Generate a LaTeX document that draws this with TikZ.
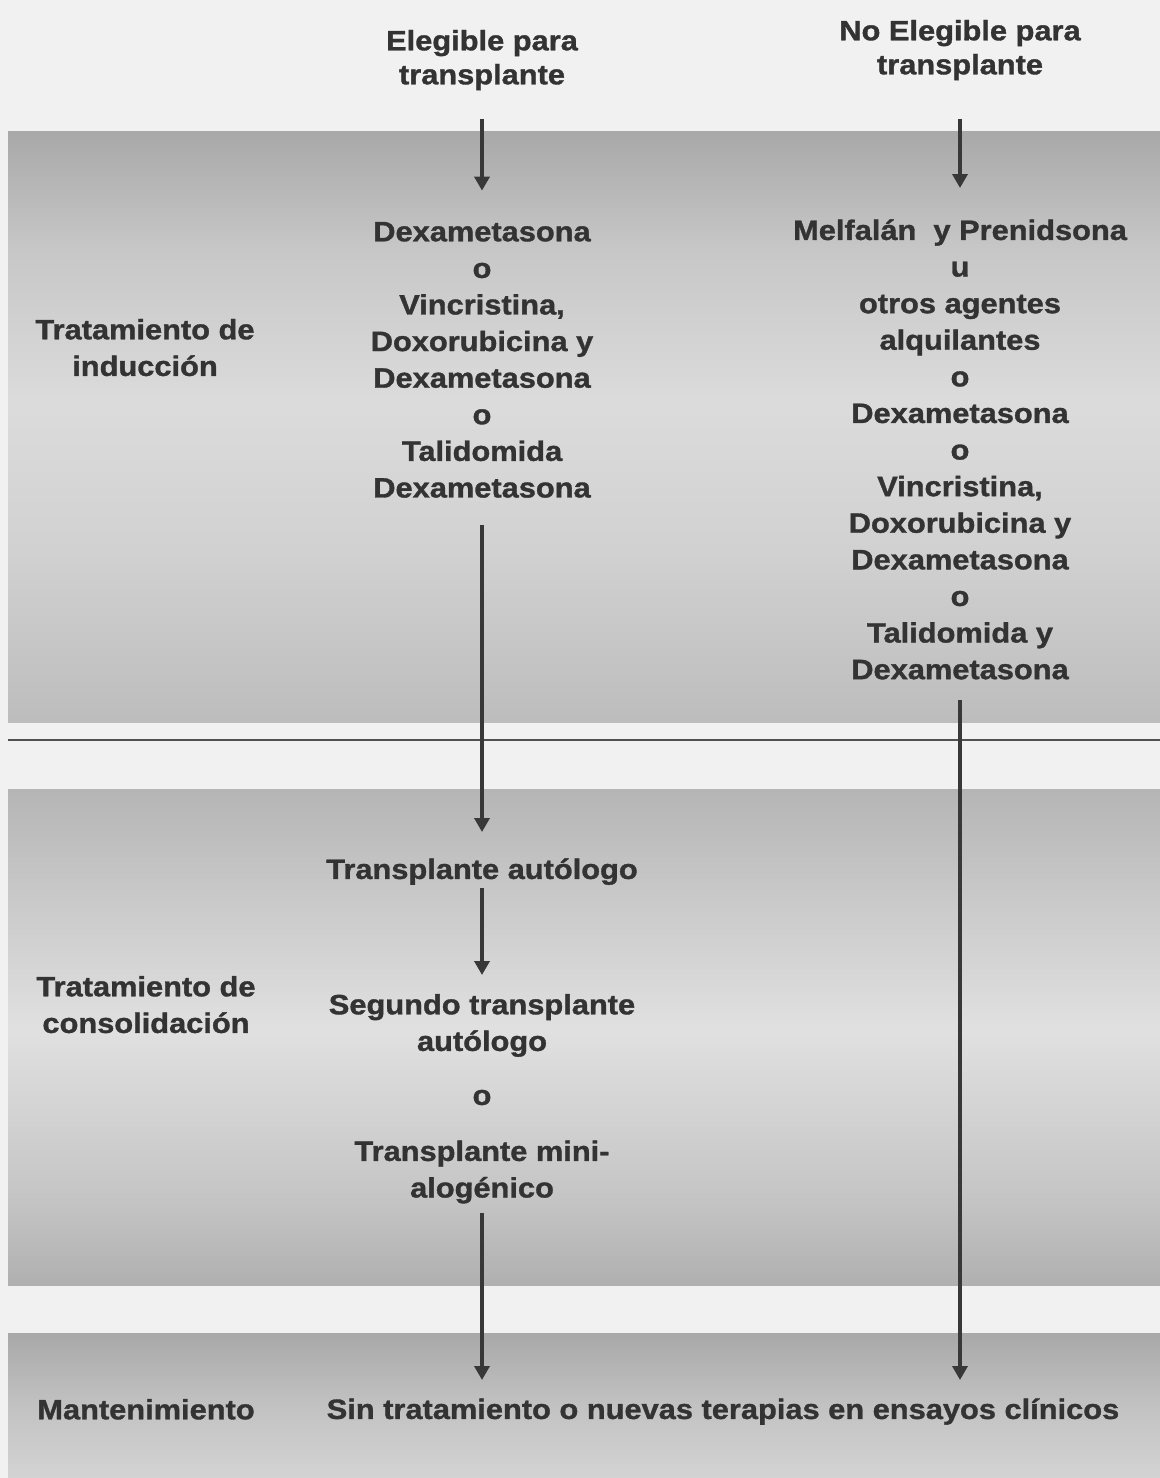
\documentclass[tikz,border=0pt]{standalone}
\usepackage{fontspec}
\setmainfont{Liberation Sans}[FakeStretch=1.1, BoldFeatures={FakeBold=1.2}]
\usetikzlibrary{arrows.meta}
\definecolor{paper}{HTML}{F1F1F1}
\definecolor{ink}{HTML}{333333}
\definecolor{arrowc}{HTML}{383838}
\definecolor{rulec}{HTML}{505050}
\pgfdeclareverticalshading{bandone}{100bp}{rgb(0bp)=(0.74,0.74,0.74); rgb(25bp)=(0.74,0.74,0.74); rgb(39.5bp)=(0.82,0.82,0.82); rgb(52bp)=(0.86,0.86,0.86); rgb(65bp)=(0.78,0.78,0.78); rgb(75bp)=(0.66,0.66,0.66); rgb(100bp)=(0.66,0.66,0.66)}
\pgfdeclareverticalshading{bandtwo}{100bp}{rgb(0bp)=(0.69,0.69,0.69); rgb(25bp)=(0.69,0.69,0.69); rgb(33.6bp)=(0.77,0.77,0.77); rgb(50.7bp)=(0.88,0.88,0.88); rgb(63.8bp)=(0.79,0.79,0.79); rgb(75bp)=(0.71,0.71,0.71); rgb(100bp)=(0.71,0.71,0.71)}
\pgfdeclareverticalshading{bandthree}{100bp}{rgb(0bp)=(0.83,0.83,0.83); rgb(25bp)=(0.83,0.83,0.83); rgb(50bp)=(0.76,0.76,0.76); rgb(75bp)=(0.66,0.66,0.66); rgb(100bp)=(0.66,0.66,0.66)}
\tikzset{
  lbl/.style={font=\bfseries\fontsize{14pt}{18.3pt}\selectfont, text=ink, align=center, inner sep=0pt, anchor=north},
  lbltop/.style={lbl, font=\bfseries\fontsize{14pt}{17pt}\selectfont},
  flow/.style={draw=arrowc, line width=2.2pt, -{Triangle[length=7pt,width=7.5pt]}}
}
\begin{document}
\begin{tikzpicture}[x=0.5pt,y=-0.5pt]
\useasboundingbox (0,0) rectangle (1160,1478);
% background and bands
\fill[paper] (0,0) rectangle (1160,1478);
\shade[shading=bandone] (8,131) rectangle (1160,722);
\shade[shading=bandtwo] (8,789) rectangle (1160,1285);
\shade[shading=bandthree] (8,1333) rectangle (1160,1478);
\draw[rulec, line width=1pt] (8,740) -- (1160,740);
% top headers
\node[lbltop] (elig) at (482,29.6) {Elegible para\\transplante};
\node[lbltop] (noelig) at (960,19.6) {No Elegible para\\transplante};
% induction
\node[lbl] (indT) at (145,318.6) {Tratamiento de\\inducción};
\node[lbl] (dexL) at (482,221.6) {Dexametasona\\o\\Vincristina,\\Doxorubicina y\\Dexametasona\\o\\Talidomida\\Dexametasona};
\node[lbl] (dexR) at (960,219) {Melfalán\ \ y Prenidsona\\u\\otros agentes\\alquilantes\\o\\Dexametasona\\o\\Vincristina,\\Doxorubicina y\\Dexametasona\\o\\Talidomida y\\Dexametasona};
% consolidation
\node[lbl] (autoL) at (482,858) {Transplante autólogo};
\node[lbl] (consT) at (146,975.6) {Tratamiento de\\consolidación};
\node[lbl] (consL) at (482,993.6) {Segundo transplante\\autólogo\\[8.7pt]o\\[9.7pt]Transplante mini-\\alogénico};
% maintenance
\node[lbl] (mant) at (146,1398.6) {Mantenimiento};
\node[lbl] (sin) at (723,1398) {Sin tratamiento o nuevas terapias en ensayos clínicos};
% arrows
\draw[flow, shorten <=14pt, shorten >=15.5pt] (elig.south) -- (dexL.north);
\draw[flow, shorten <=19pt, shorten >=15.5pt] (noelig.south) -- (dexR.north);
\draw[flow, shorten <=13.2pt, shorten >=13pt] (dexL.south) -- (autoL.north);
\draw[flow, shorten <=1.5pt, shorten >=9.3pt] (autoL.south) -- (consL.north);
\draw[flow, shorten <=4.5pt, shorten >=9pt] (consL.south) -- (consL.south |- sin.north);
\draw[flow, shorten <=10.2pt, shorten >=9pt] (dexR.south) -- (dexR.south |- sin.north);
\end{tikzpicture}
\end{document}
